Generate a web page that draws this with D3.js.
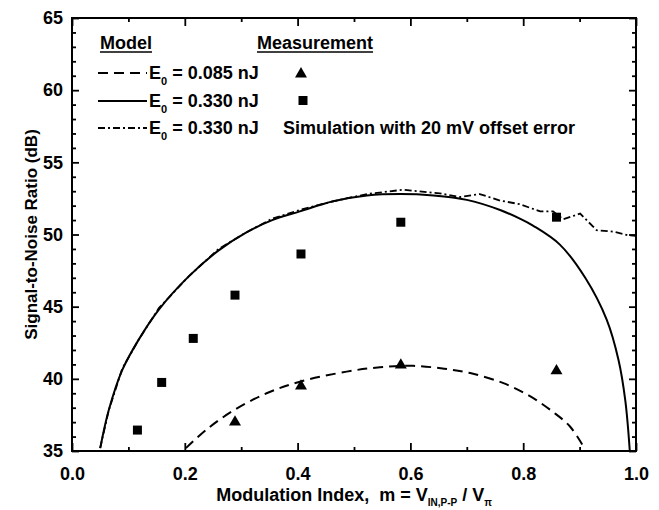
<!DOCTYPE html>
<html>
<head>
<meta charset="utf-8">
<script src="https://cdn.jsdelivr.net/npm/d3@7"></script>
<style>
  html, body { margin: 0; padding: 0; background: #fff; }
  svg { display: block; }
  text { font-family: "Liberation Sans", Arial, Helvetica, sans-serif; font-weight: bold; fill: #000; white-space: pre; }
</style>
</head>
<body>
<svg id="chart" width="659" height="510"></svg>
<script>
// ---- data ----
const xMajorTicks = [0.0, 0.2, 0.4, 0.6, 0.8, 1.0];
const xMinorTicks = [0.1, 0.3, 0.5, 0.7, 0.9];
const yMajorTicks = [35, 40, 45, 50, 55, 60, 65];
const yMinorTicks = [36,37,38,39,41,42,43,44,46,47,48,49,51,52,53,54,56,57,58,59,61,62,63,64];

// Model, E0 = 0.330 nJ (solid)
const modelHighX = [0.050, 0.065, 0.089, 0.118, 0.154, 0.207, 0.260, 0.307, 0.355, 0.404, 0.463, 0.523, 0.582, 0.641, 0.700, 0.759, 0.794, 0.818, 0.865, 0.910, 0.948, 0.969, 0.981, 0.989];
const modelHighY = [35.2, 37.8, 40.6, 42.7, 44.8, 47.1, 48.9, 50.1, 51.0, 51.6, 52.3, 52.7, 52.8, 52.7, 52.4, 51.7, 51.1, 50.6, 49.3, 47.0, 44.1, 41.3, 38.5, 35.0];

// Model, E0 = 0.085 nJ (dashed)
const modelLowX = [0.202, 0.239, 0.286, 0.345, 0.404, 0.487, 0.546, 0.605, 0.660, 0.706, 0.765, 0.812, 0.853, 0.883, 0.907];
const modelLowY = [35.2, 36.5, 37.8, 39.0, 39.8, 40.5, 40.8, 40.9, 40.7, 40.4, 39.7, 38.8, 37.7, 36.7, 35.3];

// Simulation with 20 mV offset error, E0 = 0.330 nJ (dash-dot)
const simX = [0.050, 0.065, 0.089, 0.118, 0.154, 0.207, 0.260, 0.307, 0.355, 0.404, 0.463, 0.523, 0.587, 0.652, 0.688, 0.723, 0.759, 0.794, 0.830, 0.853, 0.871, 0.901, 0.930, 0.960, 0.986, 1.000];
const simY = [35.2, 37.8, 40.7, 42.7, 44.9, 47.1, 49.0, 50.1, 51.1, 51.7, 52.3, 52.8, 53.1, 52.85, 52.6, 52.8, 52.35, 52.1, 51.6, 51.6, 51.05, 51.45, 50.3, 50.2, 49.95, 49.9];

// Measurements
const measLowX = [0.289, 0.406, 0.583, 0.859];
const measLowY = [37.0, 39.5, 40.95, 40.55];
const measHighX = [0.116, 0.159, 0.215, 0.289, 0.406, 0.583, 0.859];
const measHighY = [36.45, 39.75, 42.8, 45.8, 48.65, 50.85, 51.2];

// ---- layout ----
const svg = d3.select("#chart");
const L = 72, R = 636, T = 18, B = 451;
const x = d3.scaleLinear().domain([0, 1]).range([L, R]);
const y = d3.scaleLinear().domain([35, 65]).range([B, T]);

const fmtX = d3.format(".1f");

function styleAxis(g) {
  g.select(".domain").remove();
  g.selectAll(".tick line").attr("stroke", "#000").attr("stroke-width", 1.8);
  g.selectAll("text").style("font-size", "18px").attr("fill", "#000");
}

// bottom major
svg.append("g").attr("transform", `translate(0,${B})`)
  .call(d3.axisBottom(x).tickValues(xMajorTicks).tickFormat(fmtX).tickSize(-8).tickPadding(16))
  .call(styleAxis);
// bottom minor
svg.append("g").attr("transform", `translate(0,${B})`)
  .call(d3.axisBottom(x).tickValues(xMinorTicks).tickFormat("").tickSize(-4))
  .call(styleAxis);
// top major + minor
svg.append("g").attr("transform", `translate(0,${T})`)
  .call(d3.axisTop(x).tickValues(xMajorTicks).tickFormat("").tickSize(-8))
  .call(styleAxis);
svg.append("g").attr("transform", `translate(0,${T})`)
  .call(d3.axisTop(x).tickValues(xMinorTicks).tickFormat("").tickSize(-4))
  .call(styleAxis);
// left major
svg.append("g").attr("transform", `translate(${L},0)`)
  .call(d3.axisLeft(y).tickValues(yMajorTicks).tickFormat(d3.format("d")).tickSize(-7).tickPadding(9))
  .call(styleAxis);
svg.append("g").attr("transform", `translate(${L},0)`)
  .call(d3.axisLeft(y).tickValues(yMinorTicks).tickFormat("").tickSize(-4))
  .call(styleAxis);
// right
svg.append("g").attr("transform", `translate(${R},0)`)
  .call(d3.axisRight(y).tickValues(yMajorTicks).tickFormat("").tickSize(-7))
  .call(styleAxis);
svg.append("g").attr("transform", `translate(${R},0)`)
  .call(d3.axisRight(y).tickValues(yMinorTicks).tickFormat("").tickSize(-4))
  .call(styleAxis);

// frame
svg.append("rect").attr("x", L).attr("y", T).attr("width", R - L).attr("height", B - T)
  .attr("fill", "none").attr("stroke", "#000").attr("stroke-width", 2);

// clip
svg.append("clipPath").attr("id", "clip").append("rect")
  .attr("x", L).attr("y", T).attr("width", R - L).attr("height", B - T);

const plot = svg.append("g").attr("clip-path", "url(#clip)");

const smooth = d3.line().x(d => x(d[0])).y(d => y(d[1])).curve(d3.curveCatmullRom.alpha(0.5));
const straight = d3.line().x(d => x(d[0])).y(d => y(d[1]));

plot.append("path").datum(d3.zip(modelHighX, modelHighY)).attr("d", smooth)
  .attr("fill", "none").attr("stroke", "#000").attr("stroke-width", 2);
plot.append("path").datum(d3.zip(modelLowX, modelLowY)).attr("d", smooth)
  .attr("fill", "none").attr("stroke", "#000").attr("stroke-width", 2).attr("stroke-dasharray", "10,6");
plot.append("path").datum(d3.zip(simX, simY)).attr("d", straight)
  .attr("fill", "none").attr("stroke", "#000").attr("stroke-width", 1.8).attr("stroke-dasharray", "7,3,2,3");

const tri = d3.symbol().type(d3.symbolTriangle).size(62);
const sq = d3.symbol().type(d3.symbolSquare).size(81);

plot.selectAll(".tri").data(d3.zip(measLowX, measLowY)).join("path")
  .attr("d", tri).attr("transform", d => `translate(${x(d[0])},${y(d[1])})`).attr("fill", "#000");
plot.selectAll(".sq").data(d3.zip(measHighX, measHighY)).join("path")
  .attr("d", sq).attr("transform", d => `translate(${x(d[0])},${y(d[1])})`).attr("fill", "#000");

// axis titles
const xt = svg.append("text").attr("x", (L + R) / 2).attr("y", 501).attr("text-anchor", "middle")
  .attr("xml:space", "preserve").style("font-size", "18px");
xt.append("tspan").text("Modulation Index,  m = V");
xt.append("tspan").text("IN,P-P").style("font-size", "10px").attr("dy", 5);
xt.append("tspan").text(" / V").attr("dy", -5);
xt.append("tspan").text("π").style("font-size", "10px").attr("dy", 5);

svg.append("text").attr("transform", `translate(31,${(T + B) / 2}) rotate(-90)`)
  .attr("text-anchor", "middle").style("font-size", "17px").attr("dy", "0.35em")
  .text("Signal-to-Noise Ratio (dB)");

// legend
function underlined(txt, xx, yy) {
  const t = svg.append("text").attr("x", xx).attr("y", yy).style("font-size", "18px").text(txt);
  const w = t.node().getComputedTextLength();
  svg.append("line").attr("x1", xx).attr("x2", xx + w).attr("y1", yy + 3).attr("y2", yy + 3)
    .attr("stroke", "#000").attr("stroke-width", 1.6);
}
underlined("Model", 100, 49);
underlined("Measurement", 257, 49);

const legendLabels = ["0.085 nJ", "0.330 nJ", "0.330 nJ"];
const legendDash = ["10,6", null, "7,3,2,3"];
const legendWidth = [2, 2, 1.8];
const legendBase = [79, 107, 134];
legendLabels.forEach((lab, i) => {
  const ly = legendBase[i] - 6;
  const ln = svg.append("line").attr("x1", 98).attr("x2", 147).attr("y1", ly).attr("y2", ly)
    .attr("stroke", "#000").attr("stroke-width", legendWidth[i]);
  if (legendDash[i]) ln.attr("stroke-dasharray", legendDash[i]);
  const t = svg.append("text").attr("x", 149).attr("y", legendBase[i]).style("font-size", "18px");
  t.append("tspan").text("E");
  t.append("tspan").text("0").style("font-size", "11px").attr("dy", 6);
  t.append("tspan").text(" = " + lab).attr("dy", -6);
});
svg.append("path").attr("d", tri).attr("transform", "translate(301,74)").attr("fill", "#000");
svg.append("path").attr("d", sq).attr("transform", "translate(303,100.5)").attr("fill", "#000");
svg.append("text").attr("x", 283).attr("y", 134).style("font-size", "18px").text("Simulation with 20 mV offset error");
</script>
</body>
</html>
